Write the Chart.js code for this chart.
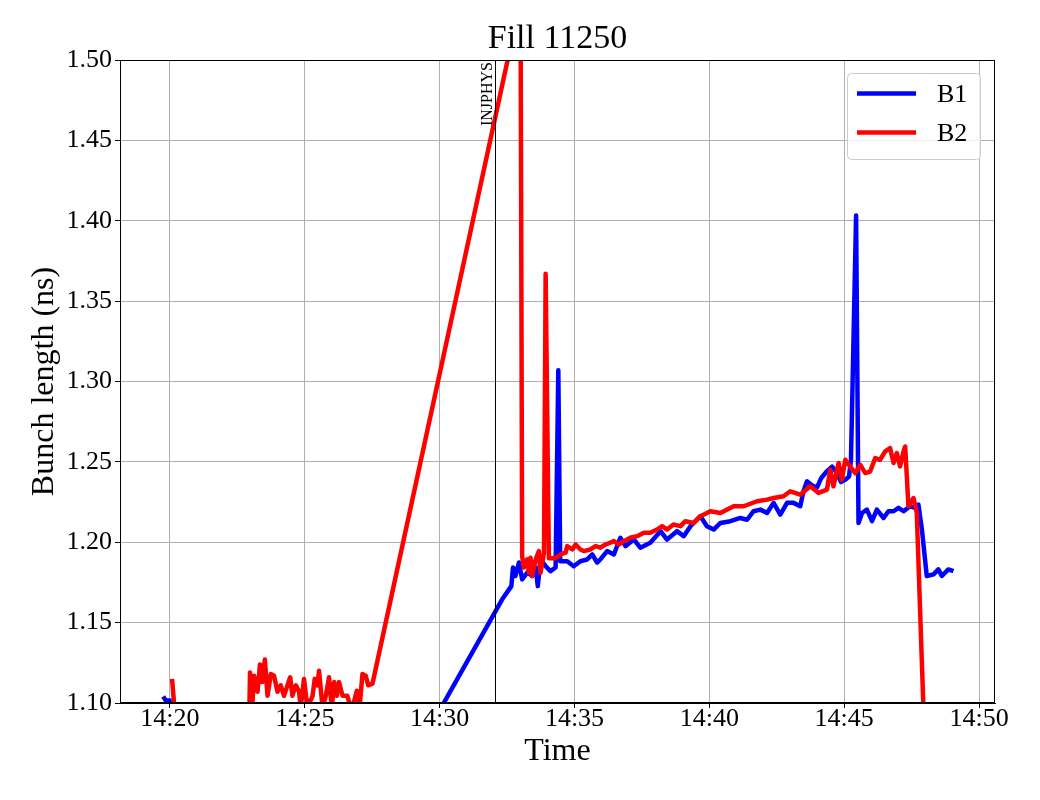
<!DOCTYPE html>
<html><head><meta charset="utf-8">
<script src="https://cdn.jsdelivr.net/npm/chart.js@4.4.0/dist/chart.umd.min.js"></script>
<style>html,body{margin:0;padding:0;background:#fff}#wrap{width:1040px;height:800px}</style>
</head><body><div id="wrap"><canvas id="c" width="1040" height="800"></canvas></div>
<script>
// Time in minutes after 14:00
const b1Time = [19.75,19.85,20.0,20.15,21.0,22.5,24.0,25.5,27.4,32.32,32.66,32.72,32.81,32.94,33.06,33.25,33.43,33.56,33.64,33.74,33.93,34.11,34.30,34.40,34.47,34.73,34.97,35.22,35.47,35.66,35.84,35.96,36.21,36.46,36.70,36.89,37.20,37.44,37.81,38.19,38.43,38.80,39.05,39.30,39.67,39.91,40.16,40.41,40.78,41.15,41.40,41.64,41.89,42.14,42.38,42.63,42.88,43.12,43.37,43.49,43.62,43.80,43.99,44.15,44.35,44.55,44.73,44.88,45.05,45.18,45.25,45.44,45.53,45.66,45.84,46.03,46.21,46.46,46.64,46.83,47.01,47.20,47.44,47.63,47.75,47.88,48.06,48.31,48.49,48.62,48.86,49.05];
const b1Len = [1.104,1.1015,1.1015,1.06,1.05,1.04,1.035,1.025,1.018,1.1645,1.1727,1.1843,1.179,1.1874,1.1769,1.1812,1.179,1.1843,1.1727,1.1893,1.1851,1.182,1.1843,1.307,1.1882,1.1882,1.1851,1.1882,1.1893,1.1924,1.1874,1.1893,1.1945,1.1924,1.2028,1.1976,1.2017,1.1966,1.1997,1.2069,1.2017,1.2069,1.2038,1.21,1.2162,1.21,1.2079,1.212,1.2131,1.2151,1.214,1.2193,1.2203,1.2182,1.2245,1.2172,1.2245,1.2245,1.2224,1.2317,1.2379,1.2355,1.234,1.24,1.244,1.247,1.243,1.2375,1.239,1.241,1.2513,1.4033,1.212,1.2182,1.2203,1.2131,1.2203,1.2151,1.2193,1.2193,1.2214,1.2193,1.2224,1.2214,1.2234,1.2079,1.179,1.18,1.1831,1.179,1.1831,1.182];
const b2Time = [20.08,20.3,21.5,22.93,22.97,23.05,23.12,23.25,23.34,23.43,23.52,23.62,23.74,23.86,23.99,24.11,24.23,24.36,24.46,24.54,24.67,24.79,24.85,24.97,25.10,25.29,25.37,25.47,25.53,25.66,25.78,25.90,26.00,26.09,26.19,26.27,26.40,26.58,26.70,26.83,26.93,27.03,27.14,27.26,27.35,27.51,33.0,33.06,33.12,33.25,33.31,33.37,33.43,33.56,33.68,33.74,33.87,33.93,34.05,34.30,34.48,34.67,34.73,34.92,35.04,35.22,35.34,35.59,35.78,35.96,36.15,36.33,36.46,36.64,36.83,37.07,37.32,37.57,37.81,38.06,38.25,38.43,38.67,38.93,39.11,39.42,39.67,40.04,40.41,40.90,41.27,41.77,42.14,42.38,42.75,43.00,43.37,43.74,44.05,44.36,44.48,44.60,44.79,44.91,45.04,45.22,45.41,45.59,45.78,45.96,46.15,46.33,46.52,46.70,46.83,46.95,47.07,47.20,47.26,47.38,47.57,47.69,48.0];
const b2Len = [1.115,1.07,1.075,1.08,1.119,1.097,1.117,1.107,1.124,1.113,1.127,1.1045,1.118,1.117,1.107,1.111,1.1045,1.111,1.116,1.1045,1.111,1.107,1.097,1.115,1.097,1.1045,1.115,1.111,1.12,1.097,1.1045,1.116,1.097,1.113,1.1045,1.113,1.1045,1.1045,1.097,1.101,1.1076,1.097,1.118,1.117,1.111,1.112,1.537,1.1913,1.1843,1.1893,1.181,1.1903,1.179,1.1893,1.1945,1.181,1.1935,1.367,1.190,1.190,1.1924,1.1935,1.1976,1.1955,1.1986,1.1955,1.1945,1.1955,1.1976,1.1966,1.1986,1.1997,1.2007,1.1986,1.2007,1.2028,1.2038,1.2059,1.2059,1.2079,1.21,1.2079,1.211,1.21,1.2131,1.212,1.2162,1.2193,1.2182,1.2224,1.2224,1.2255,1.2265,1.2275,1.2286,1.2317,1.2296,1.2348,1.2307,1.2327,1.2451,1.2348,1.2493,1.2389,1.2513,1.2472,1.243,1.2482,1.243,1.244,1.2524,1.2513,1.2565,1.2586,1.2493,1.2555,1.2472,1.2565,1.2596,1.2224,1.2275,1.2182,1.066];
const seriesLabels = ['B1','B2'];
const xTickMinutes = [20,25,30,35,40,45,50];
const yTickValues = [1.10,1.15,1.20,1.25,1.30,1.35,1.40,1.45,1.50];
const xMin = 18.15, xMax = 50.59;
const yMin = 1.10, yMax = 1.50;
const injTime = 32.07;
const injLabel = 'INJPHYS';
const titleText = 'Fill 11250';

const SERIF = '"Liberation Serif", "Times New Roman", serif';

const overlayPlugin = {
  id: 'overlay',
  afterDatasetsDraw(chart) {
    const {ctx, chartArea: a, scales: {x}} = chart;
    const px = Math.round(x.getPixelForValue(injTime)) + 0.5;
    ctx.save();
    ctx.strokeStyle = '#000'; ctx.lineWidth = 1;
    ctx.beginPath(); ctx.moveTo(px, a.top); ctx.lineTo(px, a.bottom); ctx.stroke();
    ctx.translate(px - 3.5, a.top + 2);
    ctx.rotate(-Math.PI / 2);
    ctx.font = '16px ' + SERIF; ctx.fillStyle = '#000';
    ctx.textAlign = 'right'; ctx.textBaseline = 'alphabetic';
    ctx.fillText(injLabel, 0, 0);
    ctx.restore();
    ctx.save();
    ctx.strokeStyle = '#000'; ctx.lineWidth = 1;
    ctx.strokeRect(Math.round(a.left) + 0.5, Math.round(a.top) + 0.5, Math.round(a.right - a.left) - 1, Math.round(a.bottom - a.top) - 1);
    ctx.restore();
  },
  afterDraw(chart) {
    const {ctx, chartArea: a} = chart;
    const x0 = a.right - 147.5, y0 = a.top + 13.5, w = 133, h = 86;
    ctx.save();
    ctx.fillStyle = 'rgba(255,255,255,0.8)'; ctx.strokeStyle = '#cccccc'; ctx.lineWidth = 1;
    ctx.beginPath(); ctx.roundRect(x0, y0, w, h, 4); ctx.fill(); ctx.stroke();
    chart.data.datasets.forEach((ds, i) => {
      const y = y0 + 20 + i * 39;
      ctx.strokeStyle = ds.borderColor; ctx.lineWidth = 4.5; ctx.lineCap = 'butt';
      ctx.beginPath(); ctx.moveTo(x0 + 9.5, y); ctx.lineTo(x0 + 68.5, y); ctx.stroke();
      ctx.fillStyle = '#000'; ctx.font = '26px ' + SERIF;
      ctx.textBaseline = 'middle'; ctx.textAlign = 'left';
      ctx.fillText(ds.label, x0 + 89.5, y + 1.5);
    });
    ctx.restore();
  }
};

const mk = (t, v) => t.map((tt, i) => ({x: tt, y: v[i]}));

new Chart(document.getElementById('c'), {
  type: 'line',
  data: {
    datasets: [
      {label: seriesLabels[0], data: mk(b1Time, b1Len), borderColor: '#0000ff', backgroundColor: '#0000ff', borderWidth: 4.5, pointRadius: 0, tension: 0, clip: 0, order: 1, fill: false, borderJoinStyle: 'round'},
      {label: seriesLabels[1], data: mk(b2Time, b2Len), borderColor: '#ff0000', backgroundColor: '#ff0000', borderWidth: 4.5, pointRadius: 0, tension: 0, clip: 0, order: 0, fill: false, borderJoinStyle: 'round'}
    ]
  },
  options: {
    responsive: false, animation: false, devicePixelRatio: 1,
    layout: {padding: {left: 0, right: 45, top: 0, bottom: 0}},
    plugins: {
      legend: {display: false},
      tooltip: {enabled: false},
      title: {display: true, text: titleText, fullSize: false, color: '#000',
        font: {family: SERIF, size: 34, weight: 'normal', lineHeight: 1}, padding: {top: 22, bottom: 4}}
    },
    scales: {
      x: {
        type: 'linear', min: xMin, max: xMax,
        afterBuildTicks(s) { s.ticks = xTickMinutes.map(v => ({value: v})); },
        afterFit(s) { s.height = 97; },
        ticks: {callback: v => '14:' + String(v).padStart(2, '0'), color: '#000',
          font: {family: SERIF, size: 26}, padding: -4, maxRotation: 0, autoSkip: false},
        grid: {color: '#b0b0b0', lineWidth: 1, tickLength: 5, tickColor: '#000'},
        border: {display: true, color: '#000', width: 1},
        title: {display: true, text: 'Time', color: '#000', font: {family: SERIF, size: 32}, padding: {top: 0, bottom: 29}}
      },
      y: {
        type: 'linear', min: yMin, max: yMax,
        afterBuildTicks(s) { s.ticks = yTickValues.map(v => ({value: v})); },
        afterFit(s) { s.width = 120; },
        ticks: {callback: v => Number(v).toFixed(2), color: '#000', font: {family: SERIF, size: 26}, padding: 3},
        grid: {color: '#b0b0b0', lineWidth: 1, tickLength: 5, tickColor: '#000'},
        border: {display: true, color: '#000', width: 1},
        title: {display: true, text: 'Bunch length (ns)', color: '#000', font: {family: SERIF, size: 32}, padding: {top: 25, bottom: 0}}
      }
    }
  },
  plugins: [overlayPlugin]
});
</script>
</body></html>
